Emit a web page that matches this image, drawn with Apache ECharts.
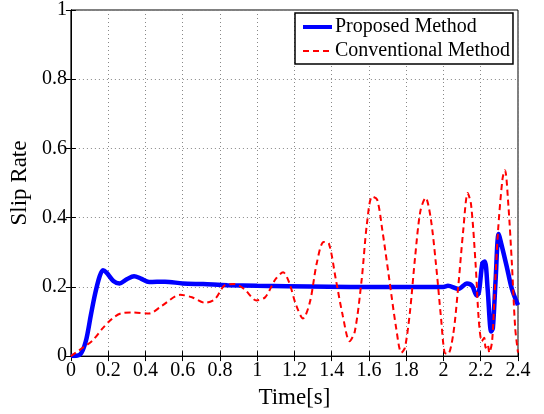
<!DOCTYPE html>
<html>
<head>
<meta charset="utf-8">
<script src="https://cdn.jsdelivr.net/npm/echarts@6/dist/echarts.min.js"></script>
<style>
  html, body { margin: 0; padding: 0; background: #fff; }
  #chart { width: 544px; height: 414px; }
</style>
</head>
<body>
<div id="chart"></div>
<script>
var xTicks = [0, 0.2, 0.4, 0.6, 0.8, 1, 1.2, 1.4, 1.6, 1.8, 2, 2.2, 2.4];

var timeProposed = [0, 0.05, 0.08, 0.107, 0.13, 0.154, 0.172, 0.19, 0.228, 0.261, 0.3, 0.339, 0.376, 0.42, 0.505,
  0.6, 0.71, 0.84, 1.0, 1.5, 2.0, 2.024, 2.08, 2.126, 2.154, 2.178, 2.19, 2.209, 2.222, 2.237, 2.256, 2.265,
  2.28, 2.296, 2.31, 2.339, 2.367, 2.4];
var proposed = [0, 0.005, 0.043, 0.118, 0.18, 0.23, 0.248, 0.242, 0.217, 0.21, 0.222, 0.231, 0.224, 0.214, 0.215,
  0.21, 0.208, 0.205, 0.203, 0.2, 0.2, 0.203, 0.194, 0.21, 0.203, 0.175, 0.184, 0.269, 0.273, 0.194, 0.071, 0.08,
  0.222, 0.353, 0.325, 0.26, 0.194, 0.147];

var timeConventional = [0, 0.063, 0.116, 0.17, 0.223, 0.267, 0.33, 0.419, 0.49, 0.587, 0.65, 0.72, 0.774, 0.827,
  0.876, 0.93, 0.996, 1.043, 1.098, 1.139, 1.172, 1.209, 1.246, 1.283, 1.32, 1.357, 1.385, 1.422, 1.459, 1.496,
  1.524, 1.561, 1.589, 1.617, 1.644, 1.672, 1.709, 1.746, 1.774, 1.793, 1.82, 1.848, 1.876, 1.904, 1.931, 1.959,
  1.987, 2.006, 2.024, 2.052, 2.078, 2.106, 2.13, 2.148, 2.172, 2.19, 2.206, 2.219, 2.226, 2.237, 2.246, 2.261,
  2.274, 2.293, 2.317, 2.33, 2.348, 2.367, 2.385, 2.4];
var conventional = [0, 0.024, 0.045, 0.08, 0.109, 0.123, 0.126, 0.123, 0.146, 0.177, 0.17, 0.154, 0.165, 0.205,
  0.208, 0.194, 0.161, 0.17, 0.222, 0.242, 0.212, 0.147, 0.109, 0.156, 0.269, 0.33, 0.325, 0.222, 0.118, 0.043,
  0.071, 0.222, 0.382, 0.461, 0.452, 0.363, 0.222, 0.081, 0.01, 0.024, 0.128, 0.288, 0.419, 0.457, 0.4, 0.269,
  0.109, 0.01, 0.006, 0.062, 0.194, 0.363, 0.471, 0.438, 0.269, 0.1, 0.043, 0.053, 0.024, 0.034, 0.01, 0.043,
  0.175, 0.363, 0.513, 0.537, 0.438, 0.269, 0.081, 0.01];

function pairs(xs, ys) {
  return xs.map(function (x, i) { return [x, ys[i]]; });
}

var chart = echarts.init(document.getElementById('chart'));
var font = '"Liberation Serif", "Times New Roman", serif';

var option = {
  animation: false,
  backgroundColor: '#fff',
  textStyle: { fontFamily: font },
  grid: {
    left: 68, right: 26, top: 8, bottom: 52,
    show: true, borderColor: '#000', borderWidth: 1
  },
  legend: {
    left: 295, top: 13,
    orient: 'vertical',
    padding: [4, 3, 3, 6],
    itemGap: 4,
    itemWidth: 29,
    itemHeight: 10,
    itemStyle: { opacity: 0 },
    borderColor: '#000',
    borderWidth: 1.5,
    backgroundColor: '#fff',
    textStyle: { fontFamily: font, fontSize: 20, color: '#000', padding: [0, 0, 0, -2] },
    data: [
      { name: 'Proposed Method', lineStyle: { width: 4 } },
      { name: 'Conventional Method', lineStyle: { width: 2 } }
    ]
  },
  xAxis: [{
    type: 'value', min: 0, max: 2.4, interval: 0.2,
    name: 'Time[s]', nameLocation: 'middle', nameGap: 22,
    nameTextStyle: { fontFamily: font, fontSize: 23, color: '#000' },
    axisLine: { show: true, lineStyle: { color: '#000' } },
    axisTick: { show: true, inside: true, length: 5, lineStyle: { color: '#000' } },
    axisLabel: { fontFamily: font, fontSize: 20, color: '#000', margin: 5 },
    splitLine: { show: true, lineStyle: { color: '#888', type: [1, 3] } }
  }, {
    type: 'value', min: 0, max: 2.4, interval: 0.2, position: 'top',
    axisLine: { show: true, lineStyle: { color: '#000' } },
    axisTick: { show: true, inside: true, length: 5, lineStyle: { color: '#000' } },
    axisLabel: { show: false },
    splitLine: { show: false }
  }],
  yAxis: [{
    type: 'value', min: 0, max: 1, interval: 0.2,
    name: 'Slip Rate', nameLocation: 'middle', nameGap: 32,
    nameTextStyle: { fontFamily: font, fontSize: 23, color: '#000' },
    axisLine: { show: true, lineStyle: { color: '#000' } },
    axisTick: { show: true, inside: true, length: 5, lineStyle: { color: '#000' } },
    axisLabel: { fontFamily: font, fontSize: 20, color: '#000', margin: 4 },
    splitLine: { show: true, lineStyle: { color: '#888', type: [1, 3] } }
  }, {
    type: 'value', min: 0, max: 1, interval: 0.2, position: 'right',
    axisLine: { show: true, lineStyle: { color: '#000' } },
    axisTick: { show: true, inside: true, length: 5, lineStyle: { color: '#000' } },
    axisLabel: { show: false },
    splitLine: { show: false }
  }],
  series: [{
    name: 'Proposed Method',
    type: 'line',
    data: pairs(timeProposed, proposed),
    symbol: 'none',
    smooth: 0.3,
    z: 3,
    itemStyle: { color: '#0000ff' },
    lineStyle: { color: '#0000ff', width: 4.5 }
  }, {
    name: 'Conventional Method',
    type: 'line',
    data: pairs(timeConventional, conventional),
    symbol: 'none',
    smooth: 0.3,
    z: 4,
    itemStyle: { color: '#ff0000' },
    lineStyle: { color: '#ff0000', width: 2, type: [6, 4] }
  }]
};

chart.setOption(option);

window.onresize = function () {
  chart.resize();
};
</script>
</body>
</html>
